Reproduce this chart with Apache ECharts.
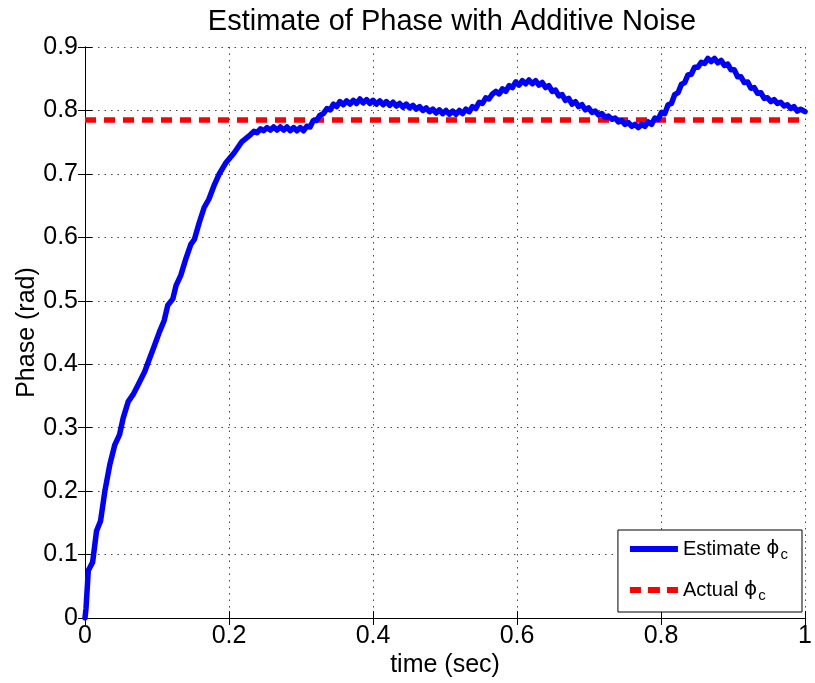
<!DOCTYPE html>
<html><head><meta charset="utf-8">
<script src="https://cdn.jsdelivr.net/npm/echarts@6/dist/echarts.min.js"></script>
<style>html,body{margin:0;padding:0;background:#fff}#c{width:815px;height:683px}</style>
</head><body><div id="c"></div>
<script>
const estTime = [0,0.0014,0.0046,0.0106,0.016,0.0216,0.0276,0.0345,0.0414,0.048,0.053,0.060,0.0667,0.0735,0.0828,0.0897,0.0966,0.1034,0.110,0.115,0.122,0.1264,0.133,0.140,0.147,0.152,0.1586,0.1655,0.172,0.179,0.186,0.1954,0.207,0.218,0.230,
  0.2345,0.239,0.2437,0.248,0.2529,0.2575,0.262,0.2667,0.2713,0.276,0.2805,0.285,0.2897,0.2943,0.299,0.3035,0.308,0.3126,0.317,0.3216,0.326,0.331,
  0.336,0.3406,0.345,0.3496,0.354,0.3588,0.3634,0.368,0.3726,0.3772,0.3818,0.3864,0.391,0.3956,0.400,0.4048,0.4094,0.414,0.4186,0.4232,0.4278,0.4324,0.437,0.4416,0.4462,0.4508,0.4554,0.460,0.4646,0.4692,0.4738,0.4784,0.483,0.4876,0.4922,0.4968,0.5014,0.506,0.5106,0.5152,0.5198,0.5244,0.529,0.5336,0.538,0.5428,0.5474,0.552,0.5566,0.561,0.566,
  0.5706,0.5752,0.5798,0.5844,0.589,0.5936,0.5982,0.6028,0.6074,0.612,0.6166,0.6212,0.6258,0.6304,0.635,0.6396,0.6442,0.6488,0.6534,0.658,0.6626,0.6672,0.6718,0.6764,0.681,0.6856,0.6902,0.6948,0.6994,0.704,0.7086,0.7132,0.7178,0.7224,0.727,0.7316,0.7362,0.7408,0.7454,0.75,0.7546,0.7592,0.7638,0.7684,0.773,0.7776,0.7822,0.7868,0.7914,0.796,0.8006,0.8052,0.8098,0.8144,0.819,0.8236,0.8282,0.8328,0.8374,0.842,0.8466,0.8512,0.8558,0.8604,0.865,0.8696,0.8742,0.8788,0.8834,0.888,0.8926,0.8972,0.9018,0.9064,0.911,0.9156,0.9202,0.9248,0.9294,0.934,0.9386,0.9432,0.9478,0.9524,0.957,0.9616,0.9662,0.9708,0.9754,0.98,0.9846,0.9892,0.9938,1.0];
const estPhase = [0,0.015,0.075,0.088,0.137,0.153,0.200,0.242,0.273,0.289,0.315,0.341,0.352,0.367,0.388,0.409,0.430,0.451,0.469,0.493,0.503,0.524,0.540,0.566,0.589,0.597,0.623,0.647,0.660,0.681,0.699,0.717,0.733,0.751,0.762,
  0.767,0.765,0.771,0.768,0.773,0.769,0.774,0.769,0.774,0.769,0.774,0.768,0.773,0.768,0.773,0.768,0.775,0.774,0.784,0.784,0.792,0.795,
  0.803,0.801,0.810,0.806,0.814,0.809,0.815,0.810,0.816,0.811,0.818,0.812,0.817,0.811,0.816,0.810,0.815,0.809,0.814,0.808,0.813,0.807,0.811,0.805,0.810,0.804,0.808,0.802,0.806,0.800,0.804,0.798,0.802,0.796,0.801,0.795,0.800,0.794,0.799,0.794,0.800,0.795,0.802,0.798,0.806,0.803,0.813,0.811,0.820,0.818,0.826,
  0.830,0.826,0.834,0.830,0.839,0.836,0.845,0.840,0.847,0.842,0.848,0.842,0.847,0.840,0.844,0.836,0.839,0.830,0.832,0.823,0.825,0.816,0.819,0.810,0.814,0.806,0.809,0.801,0.804,0.797,0.799,0.793,0.795,0.789,0.791,0.786,0.788,0.782,0.784,0.778,0.781,0.775,0.778,0.773,0.778,0.775,0.782,0.778,0.788,0.786,0.797,0.795,0.809,0.811,0.825,0.828,0.841,0.844,0.856,0.857,0.868,0.868,0.876,0.874,0.882,0.877,0.882,0.875,0.879,0.871,0.873,0.864,0.864,0.853,0.853,0.844,0.845,0.835,0.836,0.827,0.828,0.819,0.820,0.814,0.817,0.811,0.813,0.807,0.809,0.803,0.806,0.799,0.802,0.798];
const actualTime = [0, 1];
const actualPhase = [0.785, 0.785];
const xTicks = {min:0, max:1, interval:0.2};
const yTicks = {min:0, max:0.9, interval:0.1};

const FONT = 'Liberation Sans, Arial, Helvetica, sans-serif';
const chart = echarts.init(document.getElementById('c'), null, {renderer:'canvas'});
const grid = {left:85, right:6, top:47, bottom:62};
const split = {show:true, lineStyle:{color:'#444', type:[1.5,5], width:1}};
const LF = 20;
const legendRich = {
  t:{fontFamily:FONT, fontSize:LF, color:'#000', lineHeight:26, verticalAlign:'middle'},
  p:{fontFamily:'DejaVu Sans', fontSize:LF, color:'#000', lineHeight:26, verticalAlign:'middle'},
  s:{fontFamily:FONT, fontSize:15, color:'#000', lineHeight:10, verticalAlign:'bottom', padding:[0,0,0,1]}
};
chart.setOption({
  animation:false,
  backgroundColor:'#fff',
  title:{text:'Estimate of Phase with Additive Noise', left:447, textAlign:'center', top:2,
    textStyle:{fontFamily:FONT, fontSize:29, fontWeight:'normal', color:'#000'}},
  grid:grid,
  legend:{right:13, bottom:71, orient:'vertical', itemWidth:48, itemHeight:6, itemGap:18,
    backgroundColor:'#fff', borderColor:'#000', borderWidth:1, borderRadius:0, padding:[9,14,9,12],
    data:[
      {name:'Estimate', icon:'path://M0 0H48V6H0Z'},
      {name:'Actual', icon:'path://M0 0H11V6H0Z M18 0H30V6H18Z M37 0H48V6H37Z'}],
    formatter: n => '{t|' + n + ' }{p|ϕ}{s|c}',
    textStyle:{rich:legendRich, fontFamily:FONT, fontSize:LF, color:'#000'}},
  xAxis:[{type:'value', min:xTicks.min, max:xTicks.max, interval:xTicks.interval,
    name:'time (sec)', nameLocation:'middle', nameGap:35, nameMoveOverlap:false,
    nameTextStyle:{fontFamily:FONT, fontSize:25, color:'#000'},
    axisLine:{lineStyle:{color:'#000', width:1}}, axisTick:{inside:true, length:7, lineStyle:{color:'#000'}},
    axisLabel:{fontFamily:FONT, fontSize:25, color:'#000', margin:6}, splitLine:split},
   {type:'value', position:'top', min:xTicks.min, max:xTicks.max, interval:xTicks.interval,
    axisLine:{show:true, lineStyle:{color:'#000', width:1}}, axisTick:{inside:true, length:7, lineStyle:{color:'#000'}},
    axisLabel:{show:false}, splitLine:{show:false}}],
  yAxis:[{type:'value', min:yTicks.min, max:yTicks.max, interval:yTicks.interval,
    name:'Phase (rad)', nameLocation:'middle', nameGap:45, nameRotate:90, nameMoveOverlap:false,
    nameTextStyle:{fontFamily:FONT, fontSize:25, color:'#000'},
    axisLine:{show:true, lineStyle:{color:'#000', width:1}}, axisTick:{show:true, inside:true, length:7, lineStyle:{color:'#000'}},
    axisLabel:{fontFamily:FONT, fontSize:25, color:'#000', margin:7}, splitLine:split},
   {type:'value', position:'right', min:yTicks.min, max:yTicks.max, interval:yTicks.interval,
    axisLine:{show:true, lineStyle:{color:'#000', width:1}}, axisTick:{show:true, inside:true, length:7, lineStyle:{color:'#000'}},
    axisLabel:{show:false}, splitLine:{show:false}}],
  series:[
    {name:'Estimate', type:'line', showSymbol:false, symbol:'none', z:3,
     data: estTime.map((t,i)=>[t, estPhase[i]]),
     lineStyle:{color:'#0000ff', width:5.5, join:'round', cap:'round'}, itemStyle:{color:'#0000ff'}},
    {name:'Actual', type:'line', showSymbol:false, symbol:'none', z:2,
     data: actualTime.map((t,i)=>[t, actualPhase[i]]),
     lineStyle:{color:'#ff0000', width:5.5, type:[11,8]}, itemStyle:{color:'#ff0000'}}
  ]
});
</script></body></html>
